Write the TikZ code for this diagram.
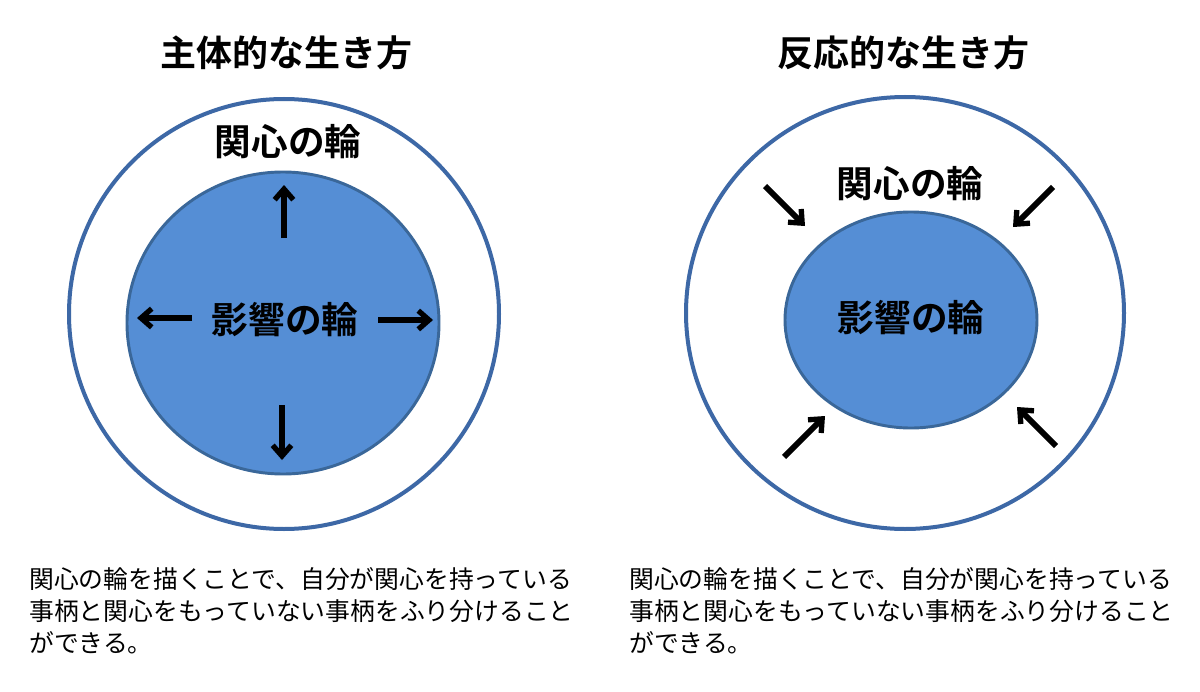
\documentclass[tikz,border=0pt]{standalone}
\usepackage{fontspec}
\newfontfamily\jpfont{Noto Sans CJK JP}
\newfontfamily\jpbold{Noto Sans CJK JP Bold}
\usetikzlibrary{arrows.meta}
\definecolor{ringblue}{HTML}{3D68A6}
\definecolor{fillblue}{HTML}{558ED5}
\definecolor{edgeblue}{HTML}{3A6799}
\tikzset{
  outerring/.style={draw=ringblue,line width=3pt,fill=white},
  innerring/.style={draw=edgeblue,line width=2.2pt,fill=fillblue},
  titletext/.style={font=\jpbold\fontsize{27}{30}\selectfont},
  ringtext/.style={font=\jpbold\fontsize{27.5}{30}\selectfont},
  bodytext/.style={font=\jpfont\fontsize{18.6}{24.2}\selectfont,align=left,anchor=north west,inner sep=0pt},
  bigarrow/.style={line width=4.4pt,-{Straight Barb[length=8pt,width=14pt,line width=4pt]}},
}
\begin{document}
\begin{tikzpicture}[x=0.75pt,y=-0.75pt]
\useasboundingbox[fill=white] (0,0) rectangle (1200,692);
% left
\node[titletext] (t1) at (286,53) {主体的な生き方};
\draw[outerring] (284,314) ellipse [x radius=215,y radius=215];
\node[ringtext] (k1) at (288,142) {関心の輪};
\draw[innerring] (283,323) ellipse [x radius=156,y radius=151];
\node[ringtext] (e1) at (285,320) {影響の輪};
\coordinate (u0) at (284,238); \coordinate (u1) at (284,185);
\coordinate (l0) at (192,318); \coordinate (l1) at (137,318);
\coordinate (r0) at (378,320); \coordinate (r1) at (433,320);
\coordinate (d0) at (282,405); \coordinate (d1) at (282,460);
\draw[bigarrow] (u0) -- (u1);
\draw[bigarrow] (l0) -- (l1);
\draw[bigarrow] (r0) -- (r1);
\draw[bigarrow] (d0) -- (d1);
\node[bodytext] (b1) at (29,567) {関心の輪を描くことで、自分が関心を持っている\\事柄と関心をもっていない事柄をふり分けること\\ができる。};
% right
\node[titletext] (t2) at (903,53) {反応的な生き方};
\draw[outerring] (905,313) ellipse [x radius=219,y radius=216];
\node[ringtext] (k2) at (910,184) {関心の輪};
\draw[innerring] (911,320) ellipse [x radius=126,y radius=108];
\node[ringtext] (e2) at (911,318) {影響の輪};
\coordinate (a0) at (765,186); \coordinate (a1) at (805,226);
\coordinate (b0) at (1053,187); \coordinate (b1x) at (1013,227);
\coordinate (c0) at (784,457); \coordinate (c1) at (825,416);
\coordinate (d0x) at (1056,446); \coordinate (d1x) at (1017,407);
\draw[bigarrow] (a0) -- (a1);
\draw[bigarrow] (b0) -- (b1x);
\draw[bigarrow] (c0) -- (c1);
\draw[bigarrow] (d0x) -- (d1x);
\node[bodytext] (b2) at (629,567) {関心の輪を描くことで、自分が関心を持っている\\事柄と関心をもっていない事柄をふり分けること\\ができる。};
\end{tikzpicture}
\end{document}
